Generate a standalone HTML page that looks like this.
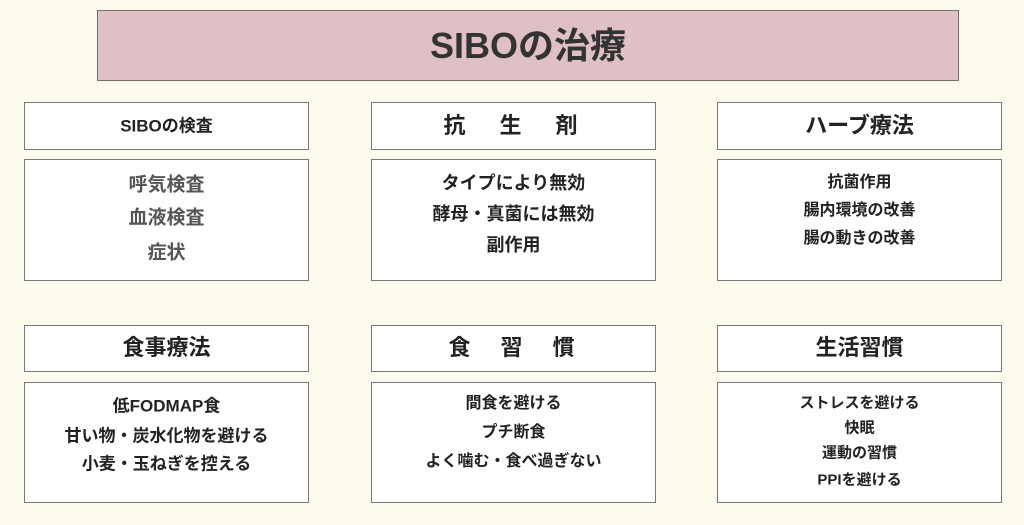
<!DOCTYPE html><html><head><meta charset="utf-8"><style>
body{margin:0;width:1024px;height:525px;background:#fdfaee;font-family:"Liberation Sans","Noto Sans CJK JP",sans-serif;position:relative;overflow:hidden}
.b{position:absolute;box-sizing:border-box;border:1.5px solid #777;background:#fff}
.t{position:absolute;left:0;right:0;text-align:center;font-weight:bold;color:#222;line-height:1;transform:translateY(-50%);white-space:pre}
</style></head><body>
<div class="b" style="left:97px;top:10px;width:862px;height:71px;background:#dfc0c5;border-color:#7a6e6e"><div class="t" style="top:35px;font-size:36px;color:#333">SIBOの治療</div></div>

<div class="b" style="left:24px;top:102px;width:285px;height:48px"><div class="t" style="top:23px;font-size:17px">SIBOの検査</div></div>
<div class="b" style="left:371px;top:102px;width:285px;height:48px"><div class="t" style="top:23px;font-size:22px;letter-spacing:6px">抗　生　剤</div></div>
<div class="b" style="left:717px;top:102px;width:285px;height:48px"><div class="t" style="top:23px;font-size:22px">ハーブ療法</div></div>

<div class="b" style="left:24px;top:159px;width:285px;height:122px;color:#555">
<div class="t" style="top:25px;font-size:19px;color:#555">呼気検査</div>
<div class="t" style="top:58px;font-size:19px;color:#555">血液検査</div>
<div class="t" style="top:93px;font-size:19px;color:#555">症状</div></div>
<div class="b" style="left:371px;top:159px;width:285px;height:122px">
<div class="t" style="top:23px;font-size:18px">タイプにより無効</div>
<div class="t" style="top:54px;font-size:18px">酵母・真菌には無効</div>
<div class="t" style="top:85px;font-size:18px">副作用</div></div>
<div class="b" style="left:717px;top:159px;width:285px;height:122px">
<div class="t" style="top:23px;font-size:16px">抗菌作用</div>
<div class="t" style="top:51px;font-size:16px">腸内環境の改善</div>
<div class="t" style="top:79px;font-size:16px">腸の動きの改善</div></div>

<div class="b" style="left:24px;top:325px;width:285px;height:47px"><div class="t" style="top:22px;font-size:22px">食事療法</div></div>
<div class="b" style="left:371px;top:325px;width:285px;height:47px"><div class="t" style="top:22px;font-size:22px;letter-spacing:4px">食　習　慣</div></div>
<div class="b" style="left:717px;top:325px;width:285px;height:47px"><div class="t" style="top:22px;font-size:22px">生活習慣</div></div>

<div class="b" style="left:24px;top:382px;width:285px;height:121px">
<div class="t" style="top:23px;font-size:17px">低FODMAP食</div>
<div class="t" style="top:53px;font-size:17px">甘い物・炭水化物を避ける</div>
<div class="t" style="top:81px;font-size:17px">小麦・玉ねぎを控える</div></div>
<div class="b" style="left:371px;top:382px;width:285px;height:121px">
<div class="t" style="top:21px;font-size:16px">間食を避ける</div>
<div class="t" style="top:50px;font-size:16px">プチ断食</div>
<div class="t" style="top:79px;font-size:16px">よく噛む・食べ過ぎない</div></div>
<div class="b" style="left:717px;top:382px;width:285px;height:121px">
<div class="t" style="top:20px;font-size:15px">ストレスを避ける</div>
<div class="t" style="top:45px;font-size:15px">快眠</div>
<div class="t" style="top:70px;font-size:15px">運動の習慣</div>
<div class="t" style="top:97px;font-size:15px">PPIを避ける</div></div>
</body></html>
